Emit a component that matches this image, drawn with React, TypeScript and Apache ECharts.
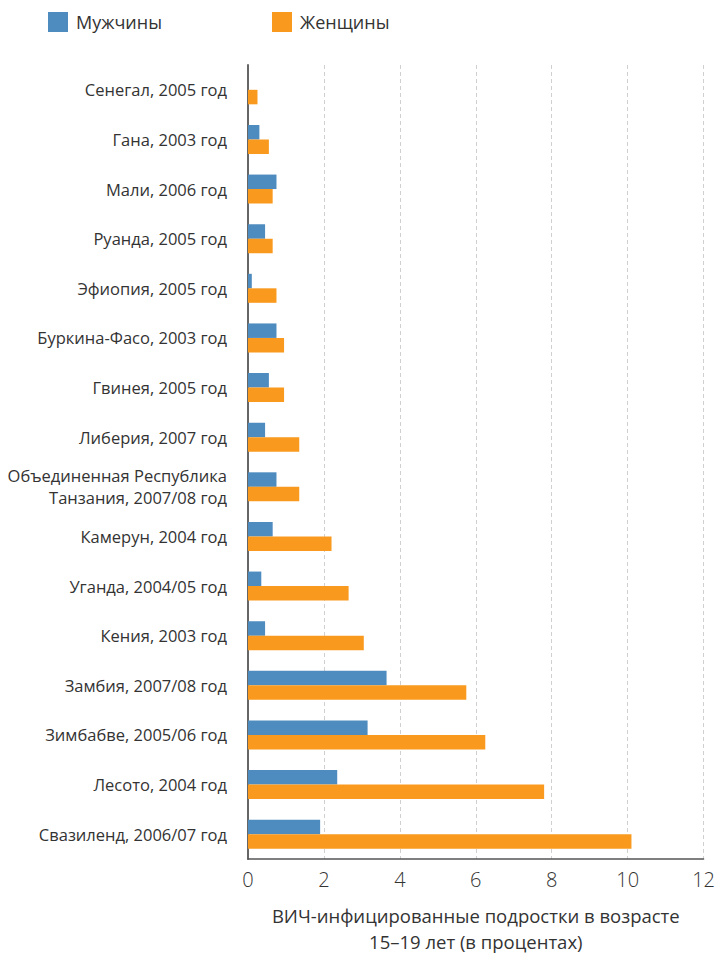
import React, { useEffect, useRef } from "react";
import * as echarts from "echarts";

const categories = [
  "Сенегал, 2005 год",
  "Гана, 2003 год",
  "Мали, 2006 год",
  "Руанда, 2005 год",
  "Эфиопия, 2005 год",
  "Буркина-Фасо, 2003 год",
  "Гвинея, 2005 год",
  "Либерия, 2007 год",
  "Объединенная Республика\nТанзания, 2007/08 год",
  "Камерун, 2004 год",
  "Уганда, 2004/05 год",
  "Кения, 2003 год",
  "Замбия, 2007/08 год",
  "Зимбабве, 2005/06 год",
  "Лесото, 2004 год",
  "Свазиленд, 2006/07 год",
];
const male = [0, 0.3, 0.75, 0.45, 0.1, 0.75, 0.55, 0.45, 0.75, 0.65, 0.35, 0.45, 3.65, 3.15, 2.35, 1.9];
const female = [0.25, 0.55, 0.65, 0.65, 0.75, 0.95, 0.95, 1.35, 1.35, 2.2, 2.65, 3.05, 5.75, 6.25, 7.8, 10.1];
const seriesNames = ["Мужчины", "Женщины"];
const xTicks = { min: 0, max: 12, interval: 2 };
const axisTitle = "ВИЧ-инфицированные подростки в возрасте\n15–19 лет (в процентах)";

const FONT = "'Open Sans', 'Noto Sans', sans-serif";
const BLUE = "#4E8BBF";
const ORANGE = "#F99A1E";

export default function App() {
  const ref = useRef<HTMLDivElement>(null);
  useEffect(() => {
    if (!ref.current) return;
    const chart = echarts.init(ref.current, undefined, { renderer: "svg" });
    const legendCommon = {
      top: 7,
      padding: 5,
      itemWidth: 20,
      itemHeight: 20,
      icon: "rect",
      textStyle: { fontSize: 18, color: "#333", fontFamily: FONT, padding: [0, 0, 0, 3] },
      selectedMode: false,
    };
    const yData = categories.map((c) =>
      c.includes("\n") ? { value: c, textStyle: { padding: [0, 0, 0, 0] } } : c
    );
    chart.setOption({
      animation: false,
      textStyle: { fontFamily: FONT },
      legend: [
        { ...legendCommon, left: 43, data: [seriesNames[0]] },
        { ...legendCommon, left: 267, data: [seriesNames[1]] },
      ],
      grid: { left: 248, right: 7, top: 65, bottom: 92, containLabel: false },
      xAxis: {
        type: "value",
        min: xTicks.min,
        max: xTicks.max,
        interval: xTicks.interval,
        axisLine: { show: true, lineStyle: { color: "#555", width: 1.5 } },
        axisTick: { show: false },
        splitLine: { show: true, lineStyle: { color: "#d0d0d0", type: [4, 3], width: 1 } },
        axisLabel: { fontSize: 20, color: "#333", fontWeight: 300, margin: 10, fontFamily: FONT },
        name: axisTitle,
        nameLocation: "middle",
        nameGap: 43,
        nameTextStyle: { fontSize: 18.5, color: "#333", lineHeight: 26, fontFamily: FONT },
      },
      yAxis: {
        type: "category",
        data: yData,
        inverse: true,
        axisLine: { show: true, lineStyle: { color: "#666", width: 2 } },
        axisTick: { show: false },
        axisLabel: {
          fontSize: 16.5,
          color: "#333",
          margin: 21,
          lineHeight: 22,
          fontFamily: FONT,
          padding: [13, 0, 0, 0],
        },
      },
      series: [
        {
          name: seriesNames[0],
          type: "bar",
          data: male,
          barWidth: 14.5,
          barGap: "0%",
          itemStyle: { color: BLUE },
        },
        {
          name: seriesNames[1],
          type: "bar",
          data: female,
          barWidth: 14.5,
          barGap: "0%",
          itemStyle: { color: ORANGE },
        },
      ],
    });
    return () => chart.dispose();
  }, []);
  return (
    <div
      ref={ref}
      style={{ position: "absolute", left: 0, top: 0, width: 718, height: 959 }}
    />
  );
}
